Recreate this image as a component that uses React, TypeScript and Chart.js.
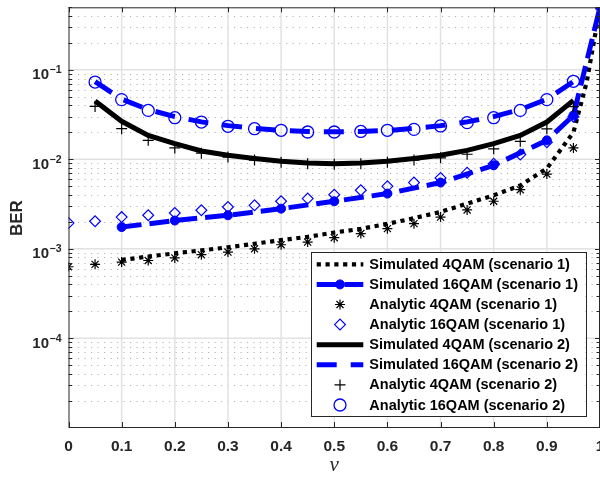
import React, { useEffect, useRef } from 'react';
import { Chart, registerables } from 'chart.js';
import { drawPoint } from 'chart.js/helpers';

Chart.register(...registerables);

// ---------------- data ----------------
const xAnalytic = [0, 0.05, 0.1, 0.15, 0.2, 0.25, 0.3, 0.35, 0.4, 0.45, 0.5, 0.55, 0.6, 0.65, 0.7, 0.75, 0.8, 0.85, 0.9, 0.95];
const xScenario2 = [0.05, 0.1, 0.15, 0.2, 0.25, 0.3, 0.35, 0.4, 0.45, 0.5, 0.55, 0.6, 0.65, 0.7, 0.75, 0.8, 0.85, 0.9, 0.95];
const xSim4QAM1 = [0.1, 0.15, 0.2, 0.25, 0.3, 0.35, 0.4, 0.45, 0.5, 0.55, 0.6, 0.65, 0.7, 0.75, 0.8, 0.85, 0.9, 0.95, 0.975, 1];
const xSim16QAM1 = [0.1, 0.2, 0.3, 0.4, 0.5, 0.6, 0.7, 0.8, 0.9, 0.95, 1];

const sim4QAM1 = [7.5e-4, 8.2e-4, 8.9e-4, 9.6e-4, 1.04e-3, 1.14e-3, 1.25e-3, 1.36e-3, 1.52e-3, 1.67e-3, 1.9e-3, 2.2e-3, 2.58e-3, 3.2e-3, 3.96e-3, 5.1e-3, 7.9e-3, 2.0e-2, 7.3e-2, 0.5];
const sim16QAM1 = [1.75e-3, 2.07e-3, 2.37e-3, 2.81e-3, 3.4e-3, 4.14e-3, 5.5e-3, 8.57e-3, 1.63e-2, 3.1e-2, 0.5];
const analytic4QAM1 = [6.3e-4, 6.7e-4, 7.1e-4, 7.4e-4, 7.9e-4, 8.6e-4, 9.2e-4, 1.0e-3, 1.11e-3, 1.19e-3, 1.33e-3, 1.48e-3, 1.68e-3, 1.91e-3, 2.26e-3, 2.72e-3, 3.4e-3, 4.58e-3, 6.85e-3, 1.34e-2];
const analytic16QAM1 = [1.94e-3, 2.03e-3, 2.26e-3, 2.37e-3, 2.51e-3, 2.7e-3, 2.93e-3, 3.06e-3, 3.4e-3, 3.64e-3, 4.03e-3, 4.51e-3, 4.99e-3, 5.5e-3, 6.2e-3, 7.1e-3, 8.95e-3, 1.13e-2, 1.55e-2, 3.0e-2];
const sim4QAM2 = [0.0448, 0.0266, 0.0185, 0.015, 0.0124, 0.0111, 0.0102, 0.0095, 0.0091, 0.0089, 0.0091, 0.0095, 0.0102, 0.0111, 0.0126, 0.015, 0.0185, 0.0261, 0.0456];
const sim16QAM2 = [0.074, 0.047, 0.036, 0.030, 0.0262, 0.0238, 0.0222, 0.021, 0.0205, 0.0203, 0.0205, 0.021, 0.0222, 0.0238, 0.0262, 0.030, 0.036, 0.047, 0.074];
const analytic4QAM2 = [0.039, 0.022, 0.0163, 0.0134, 0.0117, 0.0106, 0.0098, 0.0093, 0.0089, 0.0088, 0.0089, 0.0093, 0.0098, 0.0104, 0.0114, 0.0131, 0.0159, 0.0219, 0.0388];
const analytic16QAM2 = [0.073, 0.0465, 0.0352, 0.0292, 0.0261, 0.0234, 0.022, 0.0211, 0.0202, 0.0202, 0.0205, 0.0211, 0.0216, 0.0236, 0.0257, 0.0292, 0.0352, 0.0465, 0.0745];

const seriesLabels = [
  'Simulated 4QAM (scenario 1)',
  'Simulated 16QAM (scenario 1)',
  'Analytic 4QAM (scenario 1)',
  'Analytic 16QAM (scenario 1)',
  'Simulated 4QAM (scenario 2)',
  'Simulated 16QAM (scenario 2)',
  'Analytic 4QAM (scenario 2)',
  'Analytic 16QAM (scenario 2)',
];

const xTicks = [0, 0.1, 0.2, 0.3, 0.4, 0.5, 0.6, 0.7, 0.8, 0.9, 1];
const xTickLabels = ['0', '0.1', '0.2', '0.3', '0.4', '0.5', '0.6', '0.7', '0.8', '0.9', '1'];
const yDecades = [-1, -2, -3, -4];
const yMin = 1.02e-5;
const yMax = 0.5;
const xTitle = 'v';
const yTitle = 'BER';

// ---------------- styling ----------------
const FONT = "'Liberation Sans', Arial, Helvetica, sans-serif";
const BLUE = '#0000ff';
const BLACK = '#000000';
const AXIS = '#262626';

const zip = (xs: number[], ys: number[]) => xs.map((x, i) => ({ x, y: ys[i] }));

const legendMarker = [false, true, true, true, false, false, true, true];

const matlabPlugin = {
  id: 'matlabLook',
  beforeDatasetsDraw(chart: any) {
    const { ctx, chartArea: a, scales } = chart;
    const xs = scales.x, ys = scales.y;
    ctx.save();
    ctx.beginPath();
    ctx.rect(a.left, a.top, a.right - a.left, a.bottom - a.top);
    ctx.clip();
    // minor dotted horizontal grid
    ctx.strokeStyle = 'rgba(0,0,0,0.3)';
    ctx.lineWidth = 1;
    ctx.setLineDash([1.2, 5.3]);
    for (let e = -5; e <= 0; e++) {
      for (let m = 2; m <= 9; m++) {
        const v = m * Math.pow(10, e);
        if (v <= ys.min || v >= ys.max) continue;
        const y = Math.round(ys.getPixelForValue(v)) + 0.5;
        ctx.beginPath();
        ctx.moveTo(a.left + 3, y);
        ctx.lineTo(a.right, y);
        ctx.stroke();
      }
    }
    ctx.setLineDash([]);
    ctx.strokeStyle = '#e2e2e2';
    ctx.lineWidth = 1.5;
    for (const e of [-5, -4, -3, -2, -1]) {
      const v = Math.pow(10, e);
      if (v < ys.min || v > ys.max) continue;
      const y = ys.getPixelForValue(v);
      ctx.beginPath();
      ctx.moveTo(a.left, y);
      ctx.lineTo(a.right, y);
      ctx.stroke();
    }
    for (const t of xTicks) {
      if (t <= 0 || t >= 1) continue;
      const x = xs.getPixelForValue(t);
      ctx.beginPath();
      ctx.moveTo(x, a.top);
      ctx.lineTo(x, a.bottom);
      ctx.stroke();
    }
    ctx.restore();
  },
  afterDatasetsDraw(chart: any) {
    const { ctx, chartArea: a, scales } = chart;
    const xs = scales.x, ys = scales.y;
    ctx.save();
    ctx.strokeStyle = AXIS;
    ctx.lineWidth = 1;
    ctx.strokeRect(a.left + 0.5, a.top + 0.5, a.right - a.left - 1, a.bottom - a.top);
    ctx.beginPath();
    for (const t of xTicks) {
      const x = Math.round(xs.getPixelForValue(t)) + 0.5;
      ctx.moveTo(x, a.bottom);
      ctx.lineTo(x, a.bottom - 5);
      ctx.moveTo(x, a.top);
      ctx.lineTo(x, a.top + 5);
    }
    for (let e = -5; e <= 0; e++) {
      for (let m = 1; m <= 9; m++) {
        const v = m * Math.pow(10, e);
        if (v < ys.min || v > ys.max) continue;
        const y = Math.round(ys.getPixelForValue(v)) + 0.5;
        const len = m === 1 ? 5 : 3.5;
        ctx.moveTo(a.left, y);
        ctx.lineTo(a.left + len, y);
        ctx.moveTo(a.right, y);
        ctx.lineTo(a.right - len, y);
      }
    }
    ctx.stroke();
    ctx.restore();
  },
  afterDraw(chart: any) {
    const { ctx, chartArea: a, scales } = chart;
    const ys = scales.y;
    ctx.save();
    // y tick labels 10^k
    ctx.fillStyle = AXIS;
    ctx.textAlign = 'left';
    ctx.textBaseline = 'alphabetic';
    for (const e of yDecades) {
      const y = ys.getPixelForValue(Math.pow(10, e));
      const x0 = a.left - 36.2;
      ctx.font = `bold 15px ${FONT}`;
      ctx.fillText('10', x0, y + 9.3);
      const w = ctx.measureText('10').width;
      ctx.font = `bold 10.5px ${FONT}`;
      ctx.fillText('\u2212' + Math.abs(e), x0 + w + 0.6, y + 3.6);
    }
    // axis titles
    ctx.save();
    ctx.translate(17, (a.top + a.bottom) / 2 + 1);
    ctx.rotate(-Math.PI / 2);
    ctx.textAlign = 'center';
    ctx.textBaseline = 'middle';
    ctx.font = `bold 17px ${FONT}`;
    ctx.fillStyle = AXIS;
    ctx.fillText(yTitle, 0, 0);
    ctx.restore();
    ctx.textAlign = 'center';
    ctx.textBaseline = 'middle';
    ctx.font = `italic 21px 'Liberation Serif', 'Times New Roman', serif`;
    ctx.fillStyle = AXIS;
    ctx.fillText(xTitle, (a.left + a.right) / 2, 465);

    // legend
    const W = 274.5, H = 164.3;
    const L = a.right - 14.5 - W;
    const T = a.bottom - 11 - H;
    ctx.fillStyle = '#ffffff';
    ctx.fillRect(L, T, W, H);
    ctx.strokeStyle = AXIS;
    ctx.lineWidth = 1;
    ctx.strokeRect(Math.round(L) + 0.5, Math.round(T) + 0.5, Math.round(W), Math.round(H));
    chart.data.datasets.forEach((ds: any, i: number) => {
      const cy = T + 12.6 + i * 20.1;
      if (ds.showLine !== false) {
        ctx.save();
        ctx.strokeStyle = ds.borderColor;
        ctx.lineWidth = ds.borderWidth;
        ctx.lineCap = 'butt';
        ctx.setLineDash(ds.borderDash || []);
        ctx.beginPath();
        ctx.moveTo(L + 5.7, cy);
        ctx.lineTo(L + 52.3, cy);
        ctx.stroke();
        ctx.restore();
      }
      if (legendMarker[i]) {
        ctx.save();
        ctx.setLineDash([]);
        ctx.strokeStyle = ds.pointBorderColor;
        ctx.fillStyle = ds.pointBackgroundColor;
        ctx.lineWidth = ds.pointBorderWidth;
        drawPoint(ctx, { pointStyle: ds.pointStyle, radius: ds.pointRadius, rotation: 0, borderWidth: ds.pointBorderWidth }, L + 29, cy);
        ctx.restore();
      }
      ctx.fillStyle = BLACK;
      ctx.textAlign = 'left';
      ctx.textBaseline = 'middle';
      ctx.font = `bold 14.5px ${FONT}`;
      ctx.fillText(seriesLabels[i], L + 58.3, cy + 0.5);
    });
    ctx.restore();
  },
};

export default function App() {
  const ref = useRef<HTMLCanvasElement>(null);
  useEffect(() => {
    document.body.style.margin = '0';
    const datasets: any[] = [
      {
        label: seriesLabels[0], data: zip(xSim4QAM1, sim4QAM1),
        borderColor: BLACK, backgroundColor: BLACK, borderWidth: 4.2, borderDash: [4.2, 4.6], borderCapStyle: 'butt',
        pointRadius: 0, pointHoverRadius: 0, tension: 0,
      },
      {
        label: seriesLabels[1], data: zip(xSim16QAM1, sim16QAM1),
        borderColor: BLUE, backgroundColor: BLUE, borderWidth: 5, borderDash: [20, 8], borderCapStyle: 'butt',
        pointStyle: 'circle', pointRadius: 4.5, pointBorderWidth: 1, pointBackgroundColor: BLUE, pointBorderColor: BLUE, tension: 0,
      },
      {
        label: seriesLabels[2], data: zip(xAnalytic, analytic4QAM1), showLine: false,
        borderColor: BLACK, backgroundColor: 'rgba(0,0,0,0)',
        pointStyle: 'star', pointRadius: 5, pointBorderWidth: 1.2, pointBackgroundColor: 'rgba(0,0,0,0)', pointBorderColor: BLACK,
      },
      {
        label: seriesLabels[3], data: zip(xAnalytic, analytic16QAM1), showLine: false,
        borderColor: BLUE, backgroundColor: 'rgba(0,0,0,0)',
        pointStyle: 'rectRot', pointRadius: 5.4, pointBorderWidth: 1.2, pointBackgroundColor: 'rgba(0,0,0,0)', pointBorderColor: BLUE,
      },
      {
        label: seriesLabels[4], data: zip(xScenario2, sim4QAM2),
        borderColor: BLACK, backgroundColor: BLACK, borderWidth: 5, borderDash: [], borderCapStyle: 'butt',
        pointRadius: 0, pointHoverRadius: 0, tension: 0,
      },
      {
        label: seriesLabels[5], data: zip(xScenario2, sim16QAM2),
        borderColor: BLUE, backgroundColor: BLUE, borderWidth: 5, borderDash: [20, 14], borderCapStyle: 'butt',
        pointRadius: 0, pointHoverRadius: 0, tension: 0,
      },
      {
        label: seriesLabels[6], data: zip(xScenario2, analytic4QAM2), showLine: false,
        borderColor: BLACK, backgroundColor: 'rgba(0,0,0,0)',
        pointStyle: 'cross', pointRadius: 5.5, pointBorderWidth: 1.2, pointBackgroundColor: 'rgba(0,0,0,0)', pointBorderColor: BLACK,
      },
      {
        label: seriesLabels[7], data: zip(xScenario2, analytic16QAM2), showLine: false,
        borderColor: BLUE, backgroundColor: 'rgba(0,0,0,0)',
        pointStyle: 'circle', pointRadius: 6, pointBorderWidth: 1.3, pointBackgroundColor: 'rgba(0,0,0,0)', pointBorderColor: BLUE,
      },
    ];
    datasets.forEach((d, i) => { d.order = -i; });

    const chart = new Chart(ref.current as HTMLCanvasElement, {
      type: 'line',
      data: { datasets },
      options: {
        animation: false,
        responsive: false,
        maintainAspectRatio: false,
        devicePixelRatio: 1,
        layout: { autoPadding: false, padding: { top: 7.3, left: 0, right: 0, bottom: 0 } },
        plugins: { legend: { display: false }, tooltip: { enabled: false } },
        events: [],
        scales: {
          x: {
            type: 'linear', min: 0, max: 1,
            grid: { display: false, drawTicks: false },
            border: { display: false },
            ticks: {
              autoSkip: false, maxRotation: 0, padding: 10, color: AXIS,
              font: { family: FONT, size: 15.5, weight: 'bold' },
              callback: (v: any) => {
                const idx = xTicks.findIndex((t) => Math.abs(t - Number(v)) < 1e-9);
                return idx >= 0 ? xTickLabels[idx] : '';
              },
            },
            afterBuildTicks: (s: any) => { s.ticks = xTicks.map((v) => ({ value: v })); },
            afterFit: (s: any) => { s.height = 51; s.paddingLeft = 0; s.paddingRight = 0; },
          },
          y: {
            type: 'logarithmic', min: yMin, max: yMax,
            grid: { display: false, drawTicks: false },
            border: { display: false },
            ticks: { display: false },
            afterFit: (s: any) => { s.width = 68.5; s.paddingTop = 0; s.paddingBottom = 0; },
          },
        },
      } as any,
      plugins: [matlabPlugin],
    });
    return () => chart.destroy();
  }, []);
  return (
    <canvas ref={ref} width={600} height={478} style={{ display: 'block', width: 600, height: 478 }} />
  );
}
